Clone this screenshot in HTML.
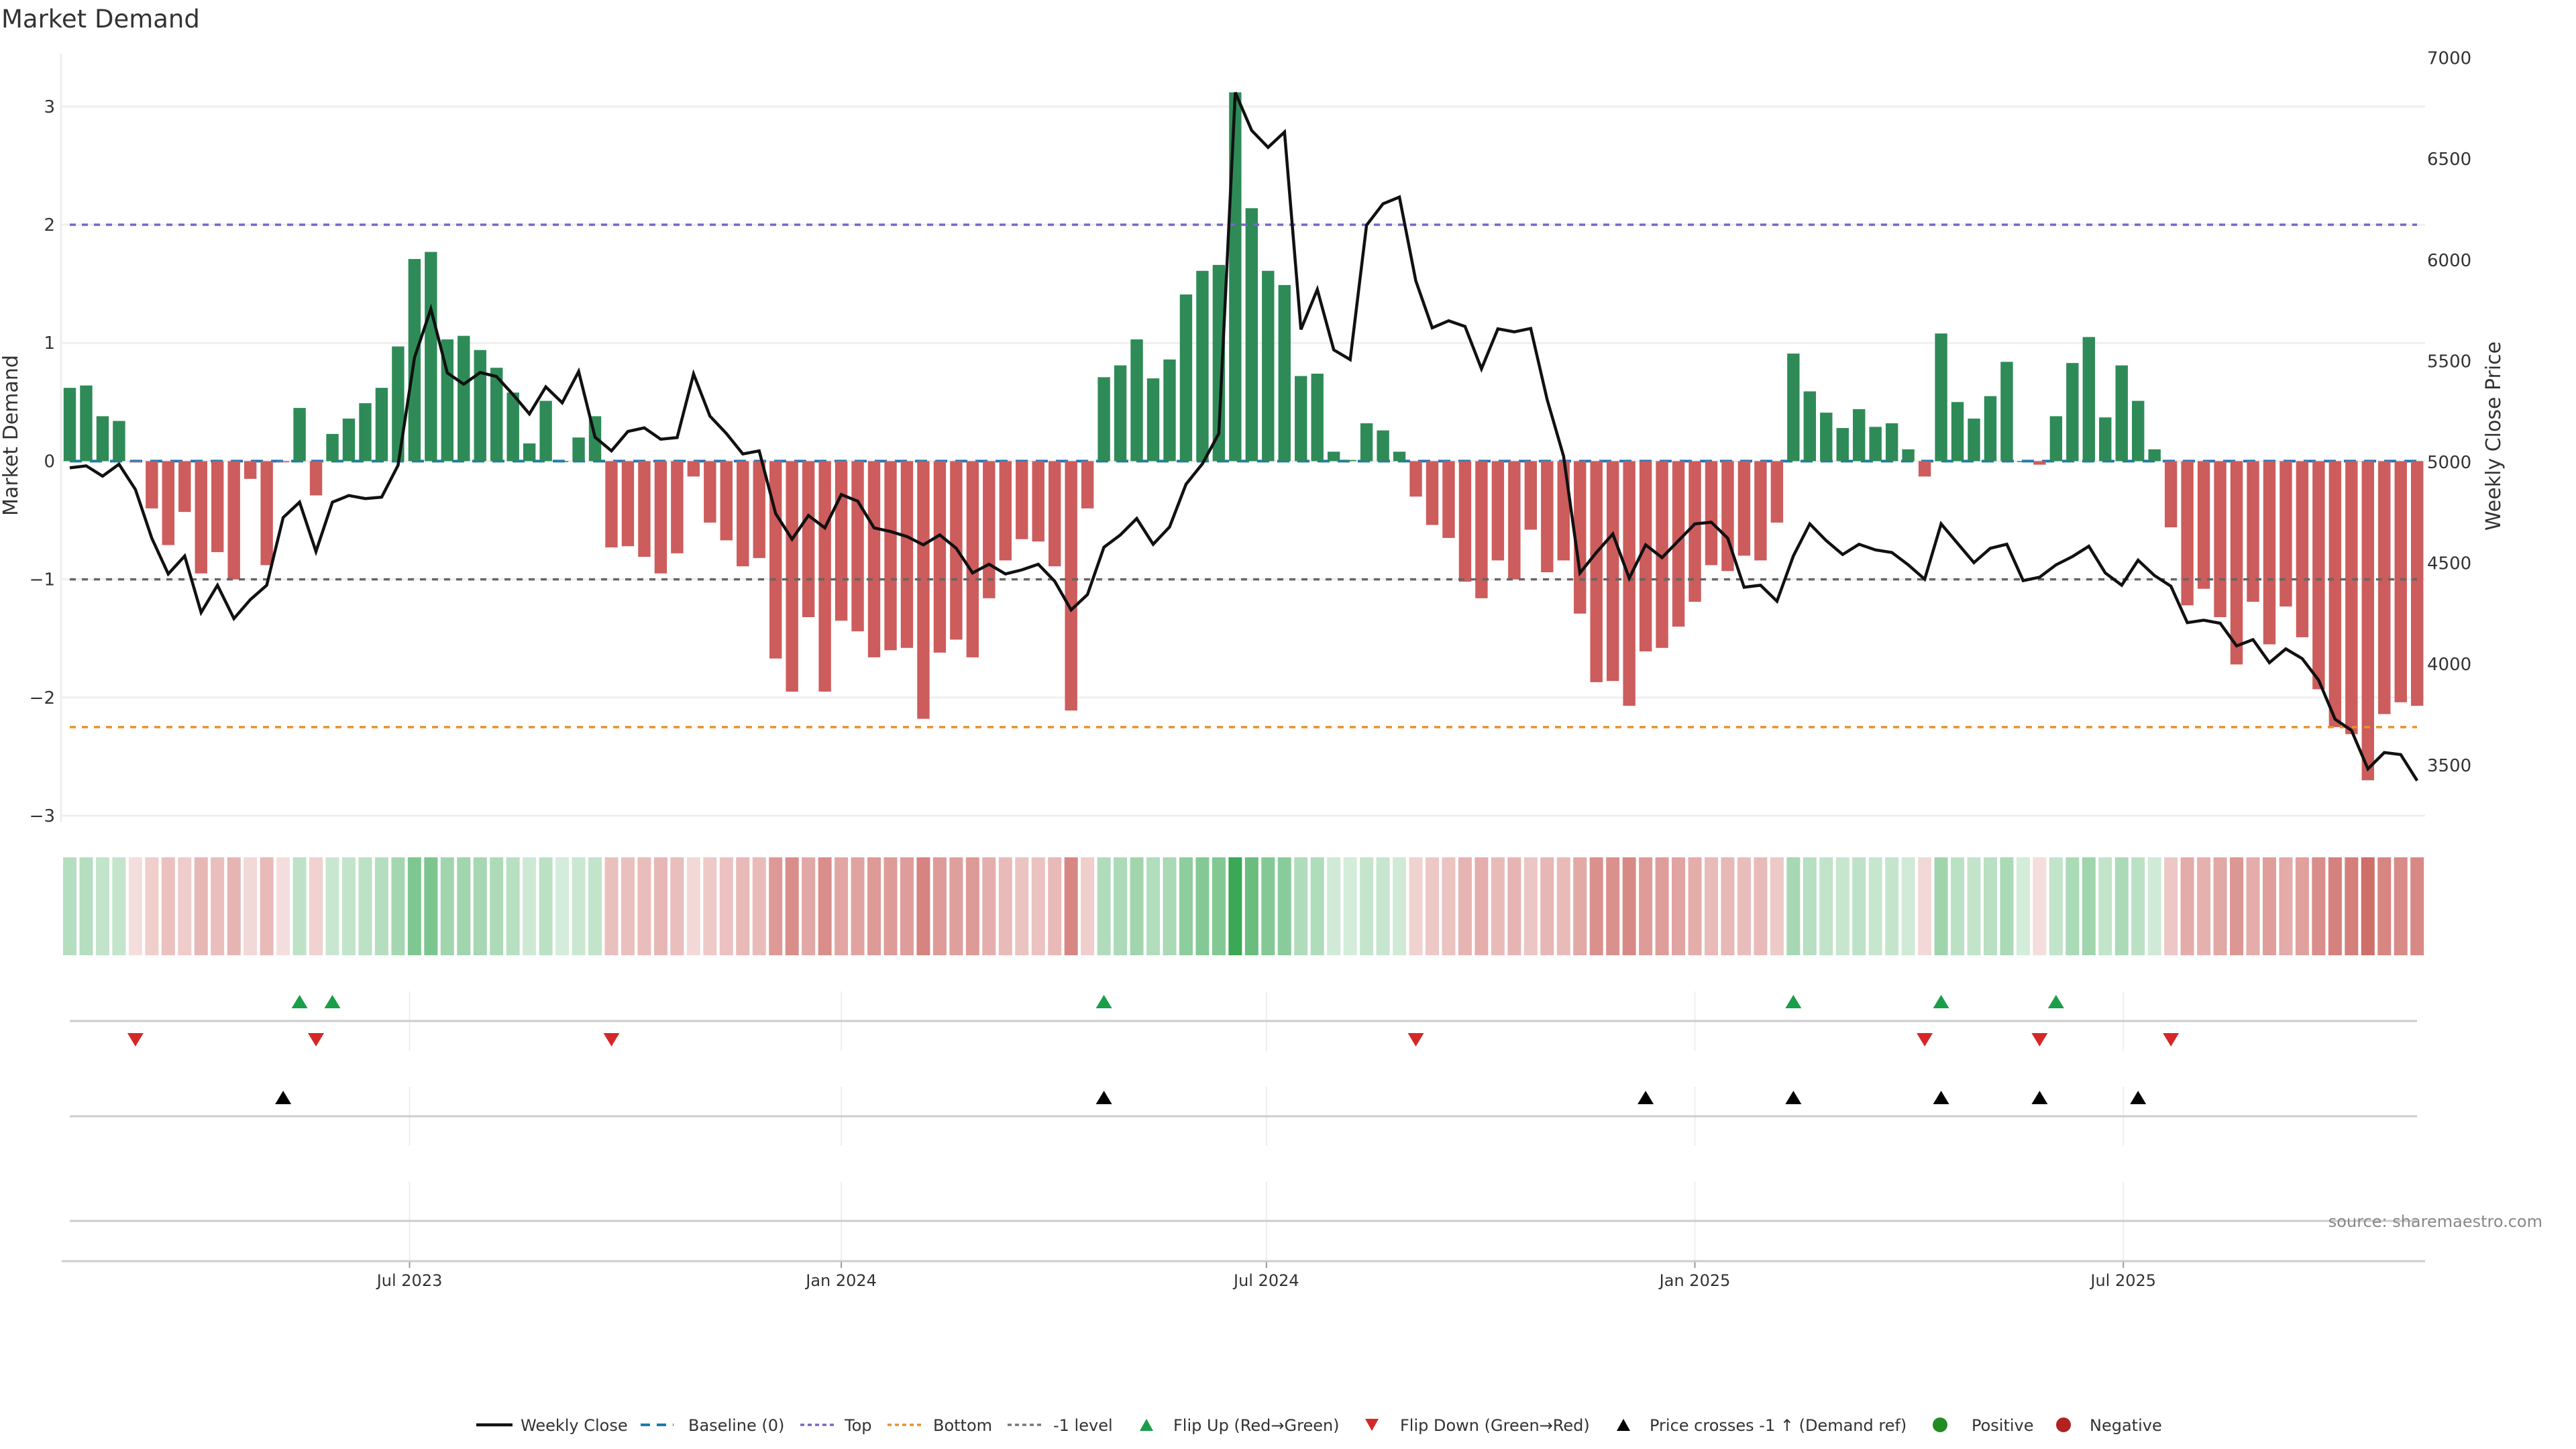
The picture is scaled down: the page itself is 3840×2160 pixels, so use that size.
<!DOCTYPE html>
<html><head><meta charset="utf-8"><style>
html,body{margin:0;padding:0;background:#fff;}
svg{display:block;font-family:"DejaVu Sans","Liberation Sans",sans-serif;}
</style></head><body>
<svg id="chart" xmlns="http://www.w3.org/2000/svg" width="3840" height="2160" viewBox="0 0 3840 2160">
<rect width="3840" height="2160" fill="#fff"/>
<text x="2" y="41" font-size="37" fill="#333">Market Demand</text>
<g id="main"></g>
</svg>
<script>
const demand=[0.62,0.64,0.38,0.34,-0.01,-0.40,-0.71,-0.43,-0.95,-0.77,-1.0,-0.15,-0.88,-0.01,0.45,-0.29,0.23,0.36,0.49,0.62,0.97,1.71,1.77,1.03,1.06,0.94,0.79,0.58,0.15,0.51,0.0,0.20,0.38,-0.73,-0.72,-0.81,-0.95,-0.78,-0.13,-0.52,-0.67,-0.89,-0.82,-1.67,-1.95,-1.32,-1.95,-1.35,-1.44,-1.66,-1.60,-1.58,-2.18,-1.62,-1.51,-1.66,-1.16,-0.84,-0.66,-0.68,-0.89,-2.11,-0.40,0.71,0.81,1.03,0.70,0.86,1.41,1.61,1.66,3.12,2.14,1.61,1.49,0.72,0.74,0.08,0.01,0.32,0.26,0.08,-0.30,-0.54,-0.65,-1.02,-1.16,-0.84,-1.0,-0.58,-0.94,-0.84,-1.29,-1.87,-1.86,-2.07,-1.61,-1.58,-1.40,-1.19,-0.88,-0.93,-0.80,-0.84,-0.52,0.91,0.59,0.41,0.28,0.44,0.29,0.32,0.10,-0.13,1.08,0.50,0.36,0.55,0.84,0.0,-0.03,0.38,0.83,1.05,0.37,0.81,0.51,0.10,-0.56,-1.22,-1.08,-1.32,-1.72,-1.19,-1.55,-1.23,-1.49,-1.93,-2.25,-2.31,-2.70,-2.14,-2.04,-2.07];
const price=[4972,4982,4931,4990,4865,4624,4447,4536,4256,4391,4226,4320,4391,4726,4802,4558,4802,4835,4820,4827,4985,5518,5759,5442,5386,5444,5424,5335,5239,5373,5294,5449,5124,5056,5152,5170,5114,5122,5437,5228,5142,5041,5056,4746,4619,4736,4675,4840,4807,4675,4657,4632,4591,4640,4574,4452,4495,4447,4467,4495,4411,4269,4345,4579,4640,4721,4594,4680,4891,4992,5142,6830,6642,6558,6634,5657,5855,5556,5508,6173,6279,6312,5898,5665,5700,5672,5462,5660,5645,5662,5310,5030,4452,4553,4645,4426,4591,4528,4612,4695,4703,4624,4381,4391,4312,4536,4695,4612,4543,4594,4566,4553,4492,4421,4695,4599,4503,4574,4594,4414,4431,4492,4533,4584,4452,4391,4515,4439,4386,4206,4218,4203,4091,4122,4008,4076,4028,3921,3728,3673,3482,3563,3553,3424];
const flipUp=[14,16,63,105,114,121];
const flipDown=[4,15,33,82,113,120,128];
const priceCross=[13,63,96,105,114,120,126];
const leftTicks=[3,2,1,0,-1,-2,-3];
const leftTickLabels=["3","2","1","0","\u22121","\u22122","\u22123"];
const rightTicks=[7000,6500,6000,5500,5000,4500,4000,3500];
const xTickPos=[20.7,47.0,72.9,99.0,125.1];
const xTickLabels=["Jul 2023","Jan 2024","Jul 2024","Jan 2025","Jul 2025"];
const levelTop=2, levelBottom=-2.25, levelMinus1=-1;

const NS="http://www.w3.org/2000/svg";
const g=document.getElementById('main');
function X(i){return 104+i*24.47;}
function Y(v){return 687.4-v*176.2;}
function P(p){return 689-(p-5000)/500*150.6;}
function mk(tag,attrs,parent){const e=document.createElementNS(NS,tag);for(const k in attrs)e.setAttribute(k,attrs[k]);(parent||g).appendChild(e);return e;}
const x0=91,x1=3615,xa=104,xb=3603;

leftTicks.forEach((t,i)=>{
  const l=mk('line',{x1:x0,x2:x1,y1:Y(t),y2:Y(t),stroke:'#efefef','stroke-width':3});
  
  
  const tx=mk('text',{x:82,y:Y(t)+9,'font-size':26,fill:'#333','text-anchor':'end'});
  tx.textContent=leftTickLabels[i];
  
  
});
rightTicks.forEach(t=>{
  const tx=mk('text',{x:3618,y:P(t)+9,'font-size':26,fill:'#333'});
  tx.textContent=String(t);
  
  
});
const spine=mk('line',{x1:x0,x2:x0,y1:80,y2:1225,stroke:'#eee','stroke-width':3});


const yt=mk('text',{x:0,y:0,'font-size':30,fill:'#333','text-anchor':'middle',transform:'translate(26,649) rotate(-90)'});
yt.textContent='Market Demand';


const yt2=mk('text',{x:0,y:0,'font-size':30,fill:'#333','text-anchor':'middle',transform:'translate(3727,650) rotate(-90)'});
yt2.textContent='Weekly Close Price';



const base=mk('line',{x1:xa,x2:xb,y1:Y(0),y2:Y(0),stroke:'#1f77b4','stroke-width':4,'stroke-dasharray':'18,12'});



demand.forEach((v,i)=>{
  const y=Math.min(Y(v),Y(0)),h=Math.max(Math.abs(Y(v)-Y(0)),1.5);
  const r=mk('rect',{x:X(i)-9.2,y:y,width:18.4,height:h,fill:v>=0?'#2e8b57':'#cd5c5c'});
  
  
});

[[levelTop,'#7466c8','top-level-line'],[levelBottom,'#e8912d','bottom-level-line'],[levelMinus1,'#666','minus-one-level-line']].forEach(a=>{
  const l=mk('line',{x1:xa,x2:xb,y1:Y(a[0]),y2:Y(a[0]),stroke:a[1],'stroke-width':3.5,'stroke-dasharray':'9,9'});
  
  
});

const pl=mk('polyline',{points:price.map((p,i)=>X(i).toFixed(1)+','+P(p).toFixed(1)).join(' '),fill:'none',stroke:'#111','stroke-width':4.5,'stroke-linejoin':'miter'});



demand.forEach((v,i)=>{
  const a=Math.min(1,0.2+(v>=0?0.23:0.25)*Math.abs(v));
  const b=v>=0?[40,160,70]:[200,90,85];
  const c=b.map(ch=>Math.round(255*(1-a)+ch*a));
  const r=mk('rect',{x:X(i)-10,y:1278,width:20,height:146,fill:'rgb('+c.join(',')+')'});
  
  
});

const panels=[[1478,1567],[1620,1708],[1762,1880]];
xTickPos.forEach((p,i)=>{
  panels.forEach(pp=>{
    const l=mk('line',{x1:X(p),x2:X(p),y1:pp[0],y2:pp[1],stroke:'#eee','stroke-width':2});
    
    
  });
  const tk=mk('line',{x1:X(p),x2:X(p),y1:1880,y2:1890,stroke:'#999','stroke-width':2});
  
  
  const tx=mk('text',{x:X(p),y:1917,'font-size':24,fill:'#333','text-anchor':'middle'});
  tx.textContent=xTickLabels[i];
  
  
});
[1522,1664,1820].forEach(y=>{
  const l=mk('line',{x1:xa,x2:xb,y1:y,y2:y,stroke:'#ccc','stroke-width':3});
  
  
});
const xax=mk('line',{x1:92,x2:x1,y1:1880,y2:1880,stroke:'#ccc','stroke-width':3});



function tri(cx,cy,up,fill,name){
  const pts=up?[[cx-12,cy+10],[cx+12,cy+10],[cx,cy-10]]:[[cx-12,cy-10],[cx+12,cy-10],[cx,cy+10]];
  const t=mk('polygon',{points:pts.map(p=>p.join(',')).join(' '),fill:fill});
  
  
}
flipUp.forEach(i=>tri(X(i),1493,true,'#1a9e4a','flip-up-marker'));
flipDown.forEach(i=>tri(X(i),1550,false,'#d62728','flip-down-marker'));
priceCross.forEach(i=>tri(X(i),1636,true,'#000','price-cross-marker'));

const src=mk('text',{x:3790,y:1829,'font-size':24,fill:'#888','text-anchor':'end'});
src.textContent='source: sharemaestro.com';



const LY=2124;
const lg=mk('g',{});


function ltext(x,s){const t=mk('text',{x:x,y:LY+9,'font-size':24,fill:'#333'},lg);t.textContent=s;}
function lline(xa_,xb_,col,dash,w){const l=mk('line',{x1:xa_,x2:xb_,y1:LY,y2:LY,stroke:col,'stroke-width':w,'stroke-dasharray':dash},lg);}
lline(710,764,'#111','none',4.5);ltext(776,'Weekly Close');
lline(955,1004,'#1f77b4','14,10',4);ltext(1026,'Baseline (0)');
lline(1193,1248,'#7466c8','6,5',3.5);ltext(1259,'Top');
lline(1323,1378,'#e8912d','6,5',3.5);ltext(1391,'Bottom');
lline(1502,1557,'#777','6,5',3.5);ltext(1570,'-1 level');
(function(){
  const items=[[1709,true,'#1a9e4a'],[2045,false,'#d62728'],[2420,true,'#000']];
  items.forEach(it=>{
    const cx=it[0],cy=LY;
    const pts=it[1]?[[cx-10,cy+9],[cx+10,cy+9],[cx,cy-9]]:[[cx-10,cy-9],[cx+10,cy-9],[cx,cy+9]];
    const t=mk('polygon',{points:pts.map(p=>p.join(',')).join(' '),fill:it[2]},lg);
    
    
  });
})();
ltext(1749,'Flip Up (Red\u2192Green)');
ltext(2087,'Flip Down (Green\u2192Red)');
ltext(2459,'Price crosses -1 \u2191 (Demand ref)');
const c1=mk('circle',{cx:2892,cy:LY,r:11,fill:'#228b22'},lg);


ltext(2939,'Positive');
const c2=mk('circle',{cx:3076,cy:LY,r:11,fill:'#b22222'},lg);


ltext(3115,'Negative');
</script>
</body></html>
